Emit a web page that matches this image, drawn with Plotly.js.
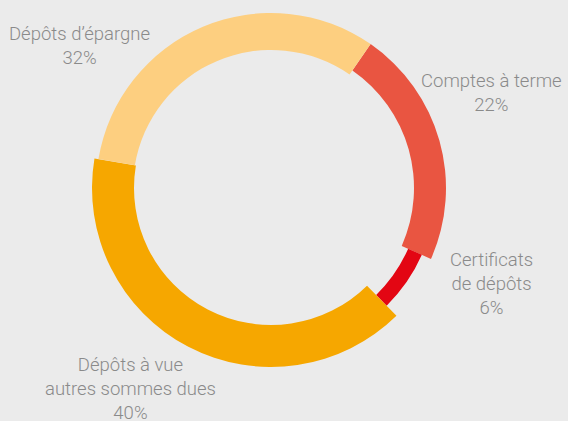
<!DOCTYPE html>
<html>
<head>
<meta charset="utf-8">
<script src="https://cdn.plot.ly/plotly-3.0.1.min.js"></script>
<style>html,body{margin:0;padding:0;background:#ebebeb;}#chart{width:568px;height:421px;}</style>
</head>
<body>
<div id="chart"></div>
<script>
// ---- data ----
const categories = ["Comptes à terme", "Certificats de dépôts", "Dépôts à vue autres sommes dues", "Dépôts d'épargne"];
const shares = [22, 6, 40, 32];
const labelTexts = ["Comptes à terme<br>22%", "Certificats<br>de dépôts<br>6%", "Dépôts à vue<br>autres sommes dues<br>40%", "Dépôts d’épargne<br>32%"];

// ---- styles ----
const colors = ["#e95541", "#e30613", "#f6a700", "#fdcf80"];
const ringInner = [143, 150, 137, 138];
const ringOuter = [175, 165, 179, 175];
const labelPos = [[491, 93], [491, 284], [130, 389], [79, 46]];
const W = 568, H = 421, CX = 271, CY = 188;

const traces = categories.map((c, i) => {
  const R = ringOuter[i];
  return {
    type: "pie",
    labels: categories,
    values: shares,
    sort: false,
    direction: "clockwise",
    rotation: 34.7,
    hole: ringInner[i] / R,
    textinfo: "none",
    hoverinfo: "skip",
    showlegend: false,
    marker: {
      colors: categories.map((_, j) => j === i ? colors[i] : "rgba(0,0,0,0)"),
      line: {width: 0}
    },
    domain: {
      x: [(CX - R) / W, (CX + R) / W],
      y: [1 - (CY + R) / H, 1 - (CY - R) / H]
    }
  };
});

const annotations = labelTexts.map((t, i) => ({
  text: t,
  xref: "paper", yref: "paper",
  x: labelPos[i][0] / W, y: 1 - labelPos[i][1] / H,
  xanchor: "center", yanchor: "middle",
  showarrow: false, align: "center",
  font: {family: "Roboto, sans-serif", size: 18.5, color: "#8a8a8a", weight: 300}
}));

Plotly.newPlot("chart", traces, {
  width: W, height: H,
  margin: {l: 0, r: 0, t: 0, b: 0},
  paper_bgcolor: "#ebebeb",
  plot_bgcolor: "#ebebeb",
  annotations: annotations
}, {displayModeBar: false, staticPlot: true});
</script>
</body>
</html>
